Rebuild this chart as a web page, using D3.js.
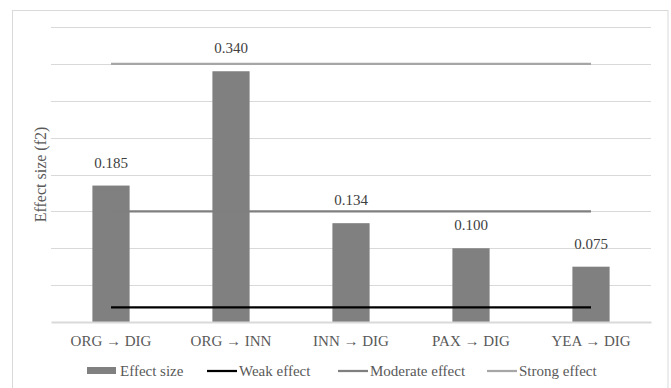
<!DOCTYPE html>
<html><head><meta charset="utf-8">
<script src="https://cdn.jsdelivr.net/npm/d3@7"></script>
<style>body{margin:0;background:#fff;}</style>
</head><body><svg id="c" width="671" height="388"></svg>
<script>
const categories = ["ORG \u2192 DIG","ORG \u2192 INN","INN \u2192 DIG","PAX \u2192 DIG","YEA \u2192 DIG"];
const effectSize = [0.185, 0.340, 0.134, 0.100, 0.075];
const effectLabels = ["0.185","0.340","0.134","0.100","0.075"];
const weakEffect = [0.02,0.02,0.02,0.02,0.02];
const moderateEffect = [0.15,0.15,0.15,0.15,0.15];
const strongEffect = [0.35,0.35,0.35,0.35,0.35];
const yTicks = [0,0.05,0.1,0.15,0.2,0.25,0.3,0.35,0.4];
const legendItems = ["Effect size","Weak effect","Moderate effect","Strong effect"];

const FONT = '"Liberation Serif"';
const svg = d3.select("#c");
const L=51, R=651, T=27, B=322;
svg.append("rect").attr("x",12.5).attr("y",10.5).attr("width",655.5).attr("height",390)
  .attr("fill","#fff").attr("stroke","#d9d9d9");
const x = d3.scaleBand().domain(categories).range([L,R]).paddingInner(0.69).paddingOuter(0.345);
const y = d3.scaleLinear().domain([0,0.4]).range([B,T]);

svg.append("g").selectAll("line").data(yTicks.slice(1)).join("line")
  .attr("x1",L).attr("x2",R).attr("y1",d=>Math.round(y(d))+0.5).attr("y2",d=>Math.round(y(d))+0.5)
  .attr("stroke","#d9d9d9").attr("stroke-width",1);

svg.append("g").selectAll("rect").data(effectSize).join("rect")
  .attr("x",(d,i)=>x(categories[i])).attr("width",x.bandwidth())
  .attr("y",d=>y(d)).attr("height",d=>B-y(d)).attr("fill","#808080");

const xAxis = svg.append("g").attr("transform",`translate(0,${B})`)
  .call(d3.axisBottom(x).tickSize(0).tickPadding(0));
xAxis.select(".domain").attr("stroke","#d9d9d9").attr("stroke-width",2);
xAxis.selectAll("text").attr("y",23.5).attr("dy",0).attr("fill","#595959")
  .style("font-family",FONT).style("font-size","15px");

const line = d3.line().x((d,i)=>x(categories[i])+x.bandwidth()/2).y(d=>y(d));
const series = [[strongEffect,"#a6a6a6"],[moderateEffect,"#7f7f7f"],[weakEffect,"#000000"]];
series.forEach(([s,c])=>{
  svg.append("path").datum(s).attr("d",line).attr("fill","none").attr("stroke",c)
    .attr("stroke-width",2.25);
});

svg.append("g").selectAll("text").data(effectSize).join("text")
  .attr("x",(d,i)=>x(categories[i])+x.bandwidth()/2).attr("y",d=>y(d)-18)
  .attr("text-anchor","middle").attr("fill","#404040")
  .style("font-family",FONT).style("font-size","15px")
  .text((d,i)=>effectLabels[i]);

svg.append("text").attr("transform",`translate(46,${(T+B)/2}) rotate(-90)`)
  .attr("text-anchor","middle").attr("fill","#595959")
  .style("font-family",FONT).style("font-size","16px").text("Effect size (f2)");

const leg = svg.append("g");
const legX = [87,207,338,487];
legendItems.forEach((t,i)=>{
  if(i===0){
    leg.append("rect").attr("x",legX[i]).attr("y",367).attr("width",29).attr("height",7).attr("fill","#808080");
  } else {
    leg.append("line").attr("x1",legX[i]).attr("x2",legX[i]+30).attr("y1",371).attr("y2",371)
      .attr("stroke",series[3-i][1]).attr("stroke-width",2.25);
  }
  leg.append("text").attr("x",legX[i]+(i===0?33:32)).attr("y",376).attr("fill","#595959")
    .style("font-family",FONT).style("font-size","15px").text(t);
});
</script></body></html>
